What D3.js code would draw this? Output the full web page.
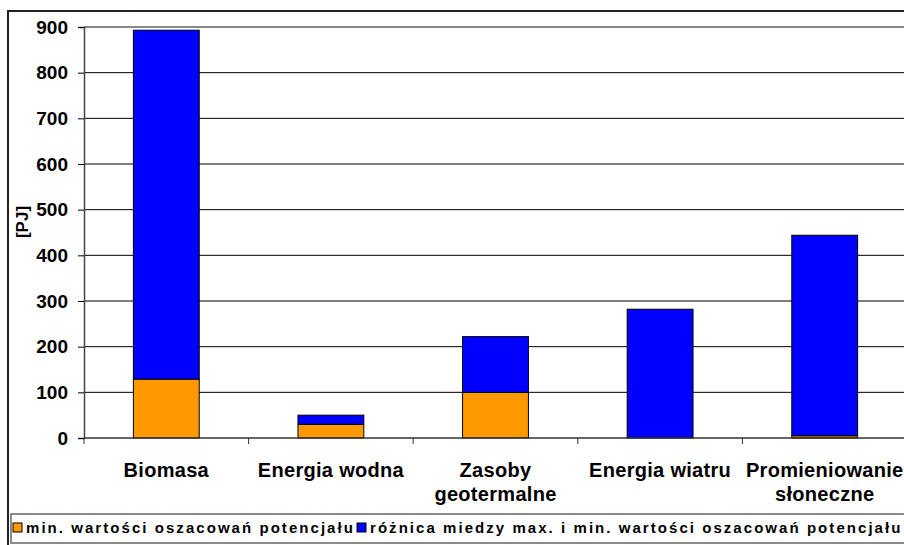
<!DOCTYPE html>
<html>
<head>
<meta charset="utf-8">
<style>
body { margin: 0; background: #fff; }
svg text { font-family: "Liberation Sans", Arial, sans-serif; font-weight: bold; fill: #000; }
</style>
</head>
<body>
<svg id="chart"></svg>
<script src="https://cdn.jsdelivr.net/npm/d3@7"></script>
<script>
// dane
const categories = ["Biomasa", "Energia wodna", "Zasoby geotermalne", "Energia wiatru", "Promieniowanie słoneczne"];
const catLines = [["Biomasa"], ["Energia wodna"], ["Zasoby", "geotermalne"], ["Energia wiatru"], ["Promieniowanie", "słoneczne"]];
const minValues = [129, 30, 100, 1, 5];
const diffValues = [764, 20, 122, 281, 439];
const seriesNames = ["min. wartości oszacowań potencjału", "różnica miedzy max. i min. wartości oszacowań potencjału"];
const yTicks = [0, 100, 200, 300, 400, 500, 600, 700, 800, 900];

const W = 904, H = 545;
const svg = d3.select("#chart").attr("width", W).attr("height", H);

// ramka zewnetrzna
svg.append("rect").attr("x", 8).attr("y", 11).attr("width", 1000).attr("height", 600)
  .attr("fill", "#fff").attr("stroke", "#222").attr("stroke-width", 2);

const plot = { left: 84, top: 27, right: 907, bottom: 438 };
const x = d3.scaleBand().domain(categories).range([plot.left, plot.right]).paddingInner(0.6).paddingOuter(0.3);
const xTick = d3.scaleLinear().domain([0, categories.length]).range([plot.left, plot.right]);
const y = d3.scaleLinear().domain([0, 900]).range([plot.bottom, plot.top]);

// siatka
svg.append("g").selectAll("line").data(yTicks.filter(d => d > 0)).join("line")
  .attr("x1", plot.left).attr("x2", plot.right)
  .attr("y1", d => y(d)).attr("y2", d => y(d))
  .attr("stroke", d => d === 900 ? "#888" : "#000").attr("stroke-width", d => d === 900 ? 2 : 1);

// slupki
const stack = categories.map((c, i) => ({ c, min: minValues[i], diff: diffValues[i] }));
const bars = svg.append("g");
bars.selectAll("rect.min").data(stack).join("rect").attr("class", "min")
  .attr("x", d => x(d.c)).attr("width", x.bandwidth())
  .attr("y", d => y(d.min)).attr("height", d => y(0) - y(d.min))
  .attr("fill", "#FF9900").attr("stroke", "#000").attr("stroke-width", 1);
bars.selectAll("rect.diff").data(stack).join("rect").attr("class", "diff")
  .attr("x", d => x(d.c)).attr("width", x.bandwidth())
  .attr("y", d => y(d.min + d.diff)).attr("height", d => y(d.min) - y(d.min + d.diff))
  .attr("fill", "#0000FF").attr("stroke", "#000").attr("stroke-width", 1);

// os Y
const yAxis = svg.append("g").attr("transform", `translate(${plot.left},0)`)
  .call(d3.axisLeft(y).tickValues(yTicks).tickSize(6).tickPadding(10));
yAxis.select(".domain").attr("stroke", "#444").attr("stroke-width", 1.5);
yAxis.selectAll(".tick line").attr("stroke", "#000");
yAxis.selectAll(".tick text").style("font-size", "19px").style("font-family", "'Liberation Sans', Arial, sans-serif").style("font-weight", "bold");

// os X
svg.append("line").attr("x1", plot.left).attr("x2", plot.right).attr("y1", plot.bottom).attr("y2", plot.bottom)
  .attr("stroke", "#333").attr("stroke-width", 1.5);
svg.append("g").selectAll("line").data(d3.range(categories.length + 1)).join("line")
  .attr("x1", d => xTick(d)).attr("x2", d => xTick(d))
  .attr("y1", plot.bottom).attr("y2", plot.bottom + 6).attr("stroke", "#333");

const catG = svg.append("g").selectAll("text").data(categories).join("text")
  .attr("text-anchor", "middle").style("font-size", "20px").style("letter-spacing", "0.3px")
  .attr("x", d => x(d) + x.bandwidth() / 2).attr("y", 477);
catG.selectAll("tspan").data((d, i) => catLines[i]).join("tspan")
  .attr("x", function () { return d3.select(this.parentNode).attr("x"); })
  .attr("dy", (d, i) => i === 0 ? 0 : 24).text(d => d);

// etykieta osi Y
svg.append("text").attr("transform", "translate(28,222) rotate(-90)")
  .attr("text-anchor", "middle").style("font-size", "17px").text("[PJ]");

// legenda
svg.append("rect").attr("x", 11).attr("y", 514).attr("width", 1000).attr("height", 29)
  .attr("fill", "#fff").attr("stroke", "#666").attr("stroke-width", 1.5);
const legendX = [13, 357];
const legendColors = ["#FF9900", "#0000FF"];
const leg = svg.append("g").selectAll("g").data(seriesNames).join("g")
  .attr("transform", (d, i) => `translate(${legendX[i]},0)`);
leg.append("rect").attr("x", 0).attr("y", 523).attr("width", 9).attr("height", 9)
  .attr("fill", (d, i) => legendColors[i]).attr("stroke", "#000");
leg.append("text").attr("x", 13).attr("y", 533).style("font-size", "15px")
  .style("letter-spacing", "2.05px").text(d => d);
</script>
</body>
</html>
